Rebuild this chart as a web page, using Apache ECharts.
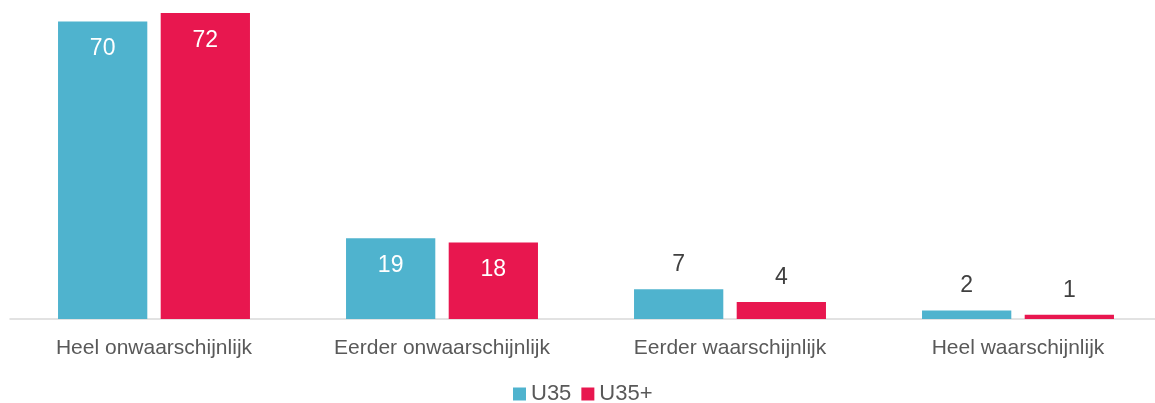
<!DOCTYPE html>
<html>
<head>
<meta charset="utf-8">
<script src="https://cdn.jsdelivr.net/npm/echarts@6/dist/echarts.min.js"></script>
<style>
  html, body { margin: 0; padding: 0; background: #fff; }
  #chart { width: 1155px; height: 403px; }
</style>
</head>
<body>
<div id="chart"></div>
<script>
// categorieen en waarden
var categories = ['Heel onwaarschijnlijk', 'Eerder onwaarschijnlijk', 'Eerder waarschijnlijk', 'Heel waarschijnlijk'];
var u35 = [70, 19, 7, 2];
var u35plus = [72, 18, 4, 1];

var myChart = echarts.init(document.getElementById('chart'));

// kleine waarden boven de balk, grote in de balk
function labelled(values) {
    return values.map(function (v) {
        if (v >= 10) {
            return { value: v, label: { position: 'insideTop', distance: 16, color: '#ffffff' } };
        }
        return { value: v, label: { position: 'top', distance: 13, color: '#404040' } };
    });
}

var option = {
    textStyle: { fontFamily: 'Liberation Sans, Arial, sans-serif' },
    animation: false,
    grid: { left: 10, top: 13, width: 1152, height: 306, outerBoundsMode: 'none' },
    legend: {
        top: 378,
        left: 508,
        itemWidth: 13,
        itemHeight: 13,
        itemGap: 10,
        icon: 'rect',
        textStyle: { fontSize: 22, color: '#595959' },
        data: ['U35', 'U35+']
    },
    xAxis: {
        type: 'category',
        data: categories,
        axisLine: { lineStyle: { color: '#d9d9d9', width: 1.5 } },
        axisTick: { show: false },
        axisLabel: { fontSize: 21, color: '#595959', margin: 19 }
    },
    yAxis: {
        type: 'value',
        min: 0,
        max: 72,
        show: false,
        splitLine: { show: false }
    },
    series: [
        {
            name: 'U35',
            type: 'bar',
            barWidth: '31%',
            barGap: '15%',
            itemStyle: { color: '#4fb3ce' },
            label: { show: true, fontSize: 23 },
            data: labelled(u35)
        },
        {
            name: 'U35+',
            type: 'bar',
            barWidth: '31%',
            itemStyle: { color: '#e8174f' },
            label: { show: true, fontSize: 23 },
            data: labelled(u35plus)
        }
    ]
};

myChart.setOption(option);
</script>
</body>
</html>
